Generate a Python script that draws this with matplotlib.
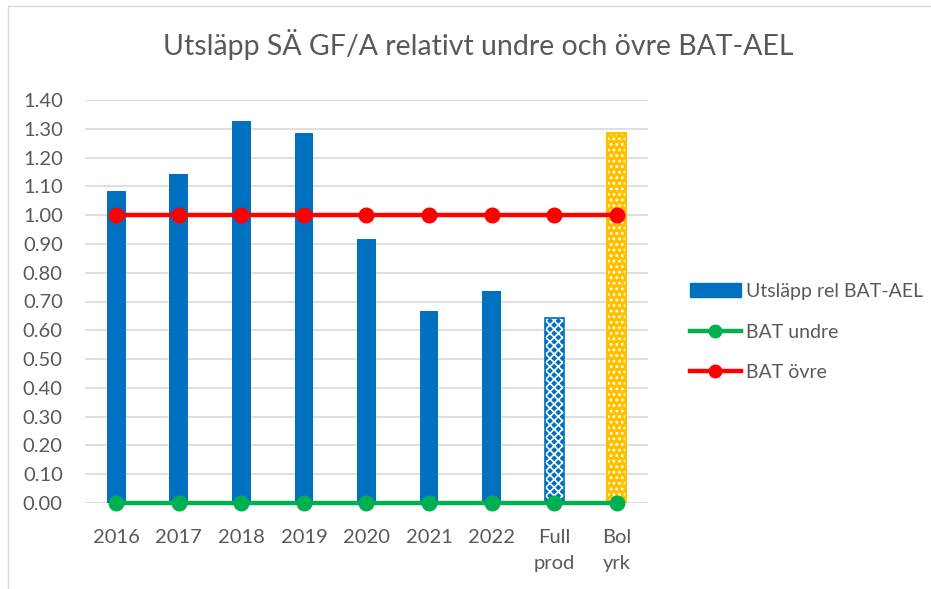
import numpy as np
import matplotlib
matplotlib.use('Agg')
import matplotlib.pyplot as plt
from matplotlib.patches import Rectangle
from matplotlib.lines import Line2D

# ── data ──
categories = ['2016', '2017', '2018', '2019', '2020', '2021', '2022', 'Full\nprod', 'Bol\nyrk']
utslapp = [1.084, 1.142, 1.327, 1.285, 0.918, 0.668, 0.738, 0.643, 1.287]
bat_undre = [0.0] * 9
bat_ovre = [1.0] * 9
yticks = np.arange(0, 1.41, 0.1)

BLUE = '#0070C0'
GREEN = '#00B050'
RED = '#FF0000'
YELLOW = '#FFC000'
GREY = '#595959'

plt.rcParams['font.family'] = ['Lato', 'DejaVu Sans']
plt.rcParams['hatch.linewidth'] = 1.2

fig = plt.figure(figsize=(9.31, 5.89), dpi=100)
ax = fig.add_axes([85 / 931, 1 - 503 / 589, (648 - 85) / 931, (503 - 100) / 589])

# chart frame
fig.patches.append(Rectangle((8 / 931, -0.1), 1.2, (589 - 6) / 589 + 0.1,
                             transform=fig.transFigure, fill=False,
                             edgecolor='#D9D9D9', linewidth=1))

x = np.arange(len(categories))
w = 0.3
ax.bar(x[:7], utslapp[:7], width=w, color=BLUE, zorder=2)
# Full prod: blue with white pattern
ax.bar(x[7], utslapp[7], width=w, color=BLUE, edgecolor='white', hatch='xxxx',
       linewidth=0, zorder=2)
ax.bar(x[7], utslapp[7], width=w, fill=False, edgecolor=BLUE, linewidth=1.2, zorder=2)
# Bol yrk: yellow with white dots
ax.bar(x[8], utslapp[8], width=w, color=YELLOW, edgecolor='white', hatch='...',
       linewidth=0, zorder=2)
ax.bar(x[8], utslapp[8], width=w, fill=False, edgecolor=YELLOW, linewidth=1.5, zorder=2)

ax.plot(x, bat_undre, color=GREEN, lw=3.2, marker='o', ms=10.5, zorder=4, clip_on=False)
ax.plot(x, bat_ovre, color=RED, lw=3.2, marker='o', ms=10.5, zorder=4, clip_on=False)

ax.set_xlim(-0.5, len(categories) - 0.5)
ax.set_ylim(0, 1.4)
ax.set_yticks(yticks)
ax.set_yticklabels([f'{v:.2f}' for v in yticks])
ax.set_xticks(x)
ax.set_xticklabels(categories, linespacing=1.6)
ax.tick_params(axis='both', length=0, labelsize=14.5, colors=GREY)
ax.tick_params(axis='y', pad=16)
ax.tick_params(axis='x', pad=19)
for lab in ax.get_xticklabels():
    lab.set_verticalalignment('top')

ax.yaxis.grid(True, color='#D9D9D9', lw=1.2, zorder=0)
ax.set_axisbelow(True)
for s in ax.spines.values():
    s.set_visible(False)

fig.text(478 / 931, 1 - 45 / 589, 'Utsläpp SÄ GF/A relativt undre och övre BAT-AEL',
         ha='center', va='center', fontsize=20.5, color=GREY)

handles = [
    Rectangle((0, 0), 1, 1, color=BLUE),
    Line2D([], [], color=GREEN, lw=3.2, marker='o', ms=9),
    Line2D([], [], color=RED, lw=3.2, marker='o', ms=9),
]
labels = ['Utsläpp rel BAT-AEL', 'BAT undre', 'BAT övre']
leg = fig.legend(handles, labels, loc='center left', bbox_to_anchor=(672 / 931, 1 - 332 / 589),
                 frameon=False, fontsize=14, labelcolor=GREY, handlelength=2.67,
                 handleheight=0.7, labelspacing=1.22, handletextpad=0.25)

plt.savefig('out.png', dpi=100)
plt.close()
